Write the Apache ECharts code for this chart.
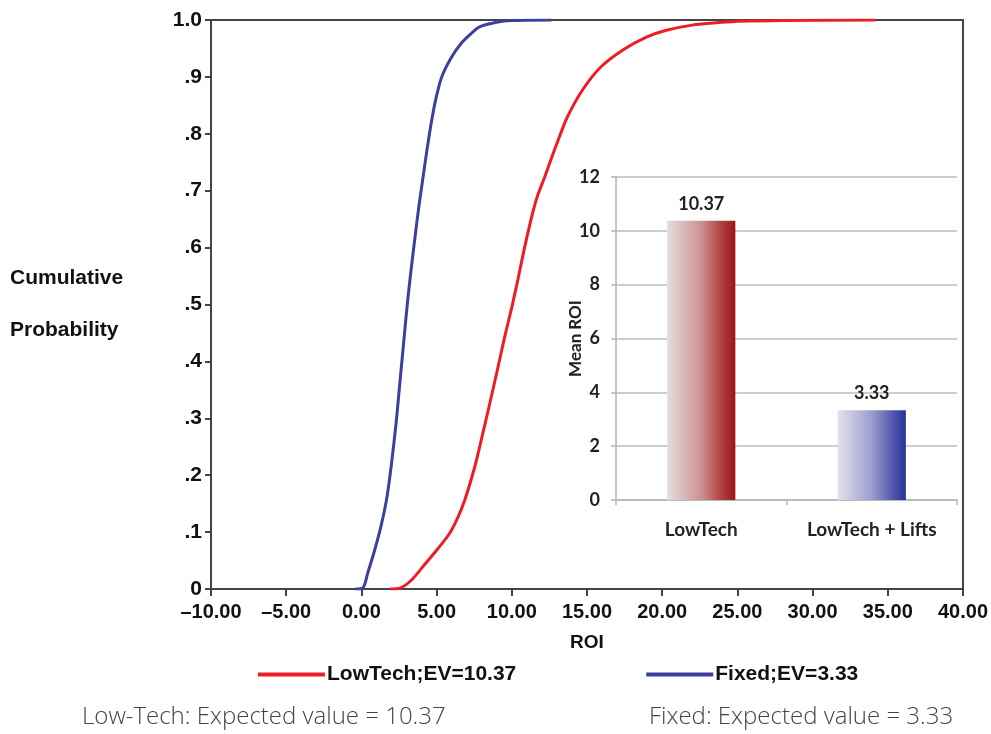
<!DOCTYPE html>
<html>
<head>
<meta charset="utf-8">
<script src="https://cdn.jsdelivr.net/npm/echarts@6/dist/echarts.min.js"></script>
<style>
html,body{margin:0;padding:0;background:#fff;}
#chart{width:991px;height:734px;}
</style>
</head>
<body>
<div id="chart"></div>
<script>
// ---- Data ----
const lowTechROI  = [1.9, 2.6, 3.3, 4.08, 5.0, 5.87, 6.4, 6.87, 7.53, 8.0, 8.5, 9.0, 9.5, 10.0, 10.4, 10.85, 11.38, 11.7, 12.2, 12.7, 13.2, 13.7, 14.7, 15.9, 17.36, 18.95, 20.28, 22.0, 23.6, 25.0, 28.0, 34.2];
const lowTechProb = [0, 0.002, 0.015, 0.039, 0.068, 0.098, 0.125, 0.156, 0.214, 0.265, 0.322, 0.38, 0.44, 0.495, 0.543, 0.6, 0.66, 0.69, 0.725, 0.762, 0.797, 0.83, 0.877, 0.917, 0.947, 0.970, 0.982, 0.991, 0.995, 0.998, 0.999, 1.0];

const fixedROI  = [-0.4, 0.1, 0.42, 0.89, 1.3, 1.69, 2.0, 2.3, 2.55, 2.8, 3.05, 3.3, 3.55, 3.81, 4.08, 4.35, 4.65, 4.94, 5.34, 6.0, 6.67, 7.33, 7.86, 8.99, 10.0, 12.64];
const fixedProb = [0, 0.002, 0.028, 0.069, 0.11, 0.16, 0.22, 0.29, 0.36, 0.43, 0.50, 0.56, 0.615, 0.67, 0.72, 0.77, 0.82, 0.86, 0.90, 0.935, 0.96, 0.977, 0.988, 0.996, 0.999, 1.0];

const seriesNames = ['LowTech;EV=10.37', 'Fixed;EV=3.33'];

const xTickLabels = ['\u201310.00', '\u20135.00', '0.00', '5.00', '10.00', '15.00', '20.00', '25.00', '30.00', '35.00', '40.00'];
const yTickLabels = ['0', '.1', '.2', '.3', '.4', '.5', '.6', '.7', '.8', '.9', '1.0'];

const barCategories = ['LowTech', 'LowTech + Lifts'];
const barValues = [10.37, 3.33];
const barLabels = ['10.37', '3.33'];

const footnotes = ['Low-Tech: Expected value = 10.37', 'Fixed: Expected value = 3.33'];

// ---- Chart ----
const chart = echarts.init(document.getElementById('chart'));
const pairs = (xs, ys) => xs.map((x, i) => [x, ys[i]]);
const mainFont = "'Liberation Sans', Arial, sans-serif";
const insetFont = "Lato, 'Open Sans', sans-serif";

const option = {
  backgroundColor: '#fff',
  animation: false,
  grid: [
    { left: 211, right: 27, top: 20, bottom: 145, show: true, borderColor: '#444', borderWidth: 2, backgroundColor: 'transparent' },
    { left: 616, right: 34, top: 177, bottom: 234, containLabel: false }
  ],
  xAxis: [
    {
      gridIndex: 0, type: 'value', min: -10, max: 40, interval: 5,
      axisLine: { show: true, onZero: false, lineStyle: { color: '#444', width: 2 } },
      axisTick: { show: true, inside: false, length: 7, lineStyle: { color: '#444', width: 2 } },
      splitLine: { show: false },
      axisLabel: {
        color: '#111', fontFamily: mainFont, fontWeight: 'bold', fontSize: 20, margin: 13,
        formatter: (v) => xTickLabels[Math.round((v + 10) / 5)]
      },
      name: 'ROI', nameLocation: 'middle', nameGap: 44,
      nameTextStyle: { color: '#111', fontFamily: mainFont, fontWeight: 'bold', fontSize: 19 }
    },
    {
      gridIndex: 1, type: 'category', data: barCategories,
      axisLine: { show: true, lineStyle: { color: '#b5b5b5', width: 1.5 } },
      axisTick: { show: true, length: 5, lineStyle: { color: '#b5b5b5', width: 1.5 } },
      axisLabel: { color: '#222', fontFamily: insetFont, fontWeight: 'bold', fontSize: 19, margin: 20 }
    }
  ],
  yAxis: [
    {
      gridIndex: 0, type: 'value', min: 0, max: 1, interval: 0.1,
      axisLine: { show: true, onZero: false, lineStyle: { color: '#444', width: 2 } },
      axisTick: { show: true, length: 6, lineStyle: { color: '#444', width: 2 } },
      splitLine: { show: false },
      axisLabel: {
        color: '#111', fontFamily: mainFont, fontWeight: 'bold', fontSize: 21, margin: 9,
        formatter: (v) => yTickLabels[Math.round(v * 10)]
      }
    },
    {
      gridIndex: 1, type: 'value', min: 0, max: 12, interval: 2,
      axisLine: { show: true, onZero: false, lineStyle: { color: '#b5b5b5', width: 1.5 } },
      axisTick: { show: true, length: 5, lineStyle: { color: '#b5b5b5', width: 1.5 } },
      splitLine: { show: true, lineStyle: { color: '#bdbdbd', width: 1.5 } },
      axisLabel: { color: '#222', fontFamily: insetFont, fontWeight: 'bold', fontSize: 18, margin: 16 },
      name: 'Mean ROI', nameLocation: 'middle', nameGap: 32, nameRotate: 90, nameMoveOverlap: false,
      nameTextStyle: { color: '#222', fontFamily: insetFont, fontWeight: 'bold', fontSize: 17 }
    }
  ],
  legend: {
    left: 253, top: 659, itemGap: 130, itemWidth: 67, itemHeight: 4,
    icon: 'rect',
    textStyle: { color: '#111', fontFamily: mainFont, fontWeight: 'bold', fontSize: 21, padding: [0, 0, 0, -3] },
    data: seriesNames
  },
  series: [
    {
      name: seriesNames[0], type: 'line', xAxisIndex: 0, yAxisIndex: 0,
      data: pairs(lowTechROI, lowTechProb), showSymbol: false, smooth: 0.3,
      lineStyle: { color: '#ee1d23', width: 3 }, itemStyle: { color: '#ee1d23' }
    },
    {
      name: seriesNames[1], type: 'line', xAxisIndex: 0, yAxisIndex: 0,
      data: pairs(fixedROI, fixedProb), showSymbol: false, smooth: 0.3,
      lineStyle: { color: '#3c3f9e', width: 3 }, itemStyle: { color: '#3c3f9e' }
    },
    {
      type: 'bar', xAxisIndex: 1, yAxisIndex: 1, barWidth: '40%',
      data: barValues.map((v, i) => ({
        value: v,
        itemStyle: {
          color: new echarts.graphic.LinearGradient(0, 0, 1, 0, i === 0 ? [
            { offset: 0, color: '#e4dfdf' },
            { offset: 0.5, color: '#cc9191' },
            { offset: 0.8, color: '#b04040' },
            { offset: 1, color: '#9c1515' }
          ] : [
            { offset: 0, color: '#e2e2ec' },
            { offset: 0.5, color: '#9c9ecd' },
            { offset: 0.8, color: '#5558ae' },
            { offset: 1, color: '#28309a' }
          ])
        }
      })),
      label: {
        show: true, position: 'top', distance: 8,
        color: '#222', fontFamily: insetFont, fontWeight: 'bold', fontSize: 18,
        formatter: (p) => barLabels[p.dataIndex]
      }
    }
  ],
  graphic: [
    { type: 'text', left: 10, top: 268, style: { text: 'Cumulative', fill: '#111', font: "bold 21px 'Liberation Sans', Arial, sans-serif" } },
    { type: 'text', left: 10, top: 320, style: { text: 'Probability', fill: '#111', font: "bold 21px 'Liberation Sans', Arial, sans-serif" } },
    { type: 'text', left: 82, top: 705, style: { text: footnotes[0], fill: '#444', font: "300 24px 'Open Sans', sans-serif" } },
    { type: 'text', left: 649, top: 705, style: { text: footnotes[1], fill: '#444', font: "300 24px 'Open Sans', sans-serif" } }
  ]
};
chart.setOption(option);
</script>
</body>
</html>
